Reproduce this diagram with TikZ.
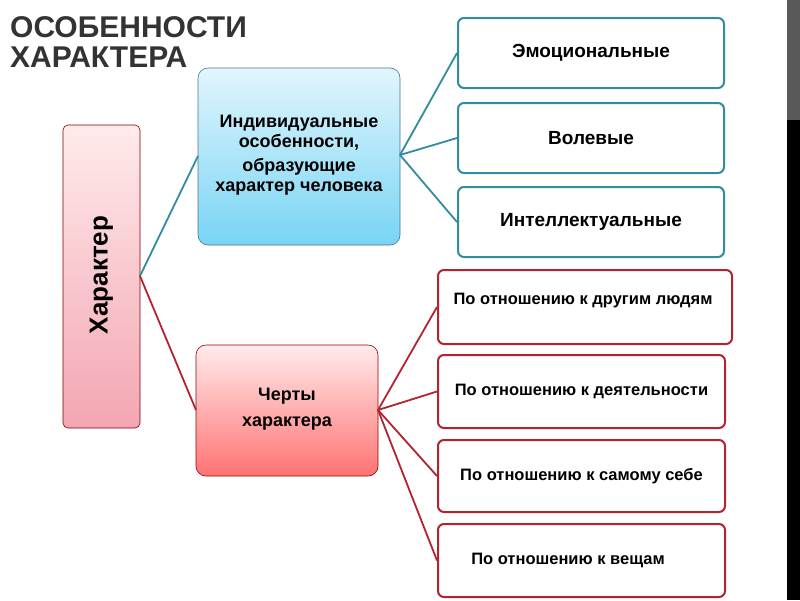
\documentclass[tikz,border=0pt]{standalone}
\usepackage{fontspec}
\setmainfont{Liberation Sans}
\definecolor{tealc}{RGB}{49,140,160}
\definecolor{redc}{RGB}{180,35,50}
\definecolor{skyb}{RGB}{120,212,245}
\definecolor{skyt}{RGB}{225,246,252}
\begin{document}
\begin{tikzpicture}[x=1pt,y=-1pt,
  box/.style={draw, rounded corners=6pt, line width=2pt, fill=white, align=center, font=\bfseries},
  tealbox/.style={box, draw=tealc, font=\bfseries\fontsize{19}{22}\selectfont},
  redbox/.style={box, draw=redc, font=\bfseries\fontsize{16.5}{19}\selectfont},
  tline/.style={draw=tealc, line width=1.8pt},
  rline/.style={draw=redc, line width=1.8pt}]
\useasboundingbox (0,0) rectangle (800,600);
\fill[white] (0,0) rectangle (800,600);
\fill[black!65] (787,0) rectangle (800,120);
\fill[black] (787,120) rectangle (800,600);
% title
\node[anchor=north west, align=left, inner sep=0pt, text=black!80, font=\bfseries\fontsize{30}{30}\selectfont] (title) at (10,16) {ОСОБЕННОСТИ\\ХАРАКТЕРА};
% main boxes
\shade[top color=red!8, bottom color=red!45!purple!35, draw=red!50!black, rounded corners=5pt, line width=0.6pt] (63,125) rectangle (140,428);
\node[rotate=90, font=\bfseries\fontsize{26}{30}\selectfont] (char) at (101.5,275) {Характер};
\coordinate (charR) at (140,276);
\shade[top color=skyt, bottom color=skyb, draw=cyan!50!black, rounded corners=10pt, line width=0.6pt] (198,68) rectangle (400,245);
\node[align=center, font=\bfseries\fontsize{18}{20}\selectfont] (ind) at (299,155) {Индивидуальные\\особенности,\\[4pt]образующие\\характер человека};
\coordinate (indL) at (198,156);
\coordinate (indR) at (400,155);
\shade[top color=red!8, bottom color=red!55, draw=red!60!black, rounded corners=10pt, line width=0.6pt] (196,345) rectangle (378,476);
\node[align=center, font=\bfseries\fontsize{18}{20}\selectfont] (trt) at (287,409) {Черты\\[6pt]характера};
\coordinate (trtL) at (196,410);
\coordinate (trtR) at (378,410);
% leaf boxes
\node[tealbox, minimum width=266pt, minimum height=70pt] (e1) at (591,53) {Эмоциональные};
\node[tealbox, minimum width=266pt, minimum height=70pt] (e2) at (591,138) {Волевые};
\node[tealbox, minimum width=266pt, minimum height=70pt] (e3) at (591,222) {Интеллектуальные};
\node[redbox, minimum width=294pt, minimum height=74pt, anchor=west] (r1) at (437,307) {};
\node[font=\bfseries\fontsize{16.5}{19}\selectfont] (r1t) at (583,301) {По отношению к другим людям};
\node[redbox, minimum width=287pt, minimum height=73pt, anchor=west] (r2) at (437,391.5) {По отношению к деятельности};
\node[redbox, minimum width=287pt, minimum height=72pt, anchor=west] (r3) at (437,476) {По отношению к самому себе};
\node[redbox, minimum width=287pt, minimum height=73pt, anchor=west] (r4) at (437,560.5) {};
\node[font=\bfseries\fontsize{16.5}{19}\selectfont] (r4t) at (568,560) {По отношению к вещам};
% connectors
\draw[tline] (charR) -- (indL);
\draw[rline] (charR) -- (trtL);
\foreach \n in {e1,e2,e3} \draw[tline] (indR) -- (\n.west);
\foreach \n in {r1,r2,r3,r4} \draw[rline] (trtR) -- (\n.west);
\end{tikzpicture}
\end{document}
